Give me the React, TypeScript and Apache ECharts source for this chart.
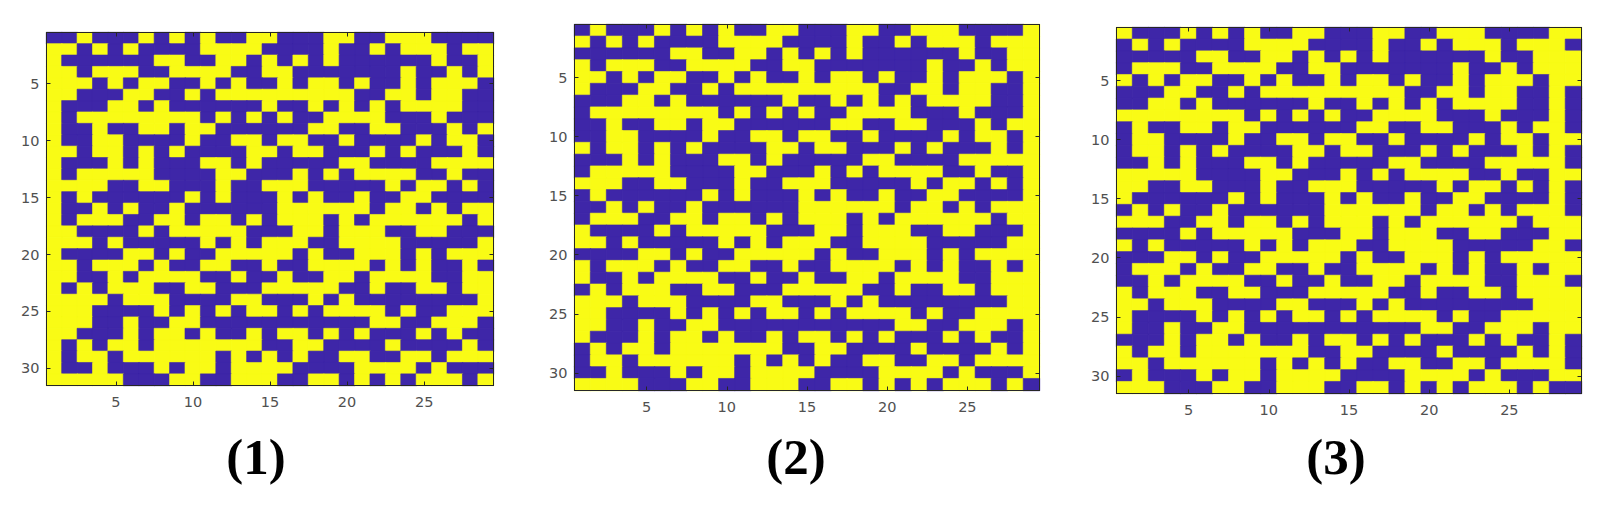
import React, { useEffect, useRef } from "react";
import * as echarts from "echarts";

// 1 = yellow, 0 = blue; spaces only group runs of equal cells (row by row, top to bottom)
const panel1Rows = [
  "00 1 000 1 0 1 0 1 00 11 000 11 00 111 0000",
  "11 0 1 0 1 0000 1111 0000 1 00 1 0 111 0 11",
  "1 000000 11 00 11 0 1 0 1 0 1 000000 1 00 1",
  "11 0 111 00 1111 00 11 0000000 1 00 1 0 1",
  "111 0 1 0 11 00 1 0 1 00 1 0 11 0 1 00 1 0 111 0",
  "11 000 11 00 1 0 111111111 00 11 0 11 00",
  "1 000 11 0 1 000000 1 00 1 0 1 0 1 0 1111 00",
  "1 0 11111111 0 1 0 1 0 1 00 1111 000 1 000",
  "1 00 1 00 11 0 11 000000 11 00 11 000 1 0 1",
  "1 00 11 0000 1 00 11 0 11 00 1 0000 1 0 11 0",
  "11 0 11 0 1 0 1 0000 11 0 11 000 1 0 1 000 1 0",
  "1 000 1 0 1 000 11 0 1 00000 11 0000 1111",
  "1 0 11111 0000 11 000 1 0 1 0 1111 00 1 00",
  "1111 00 11 000 1 00 111 00000 1 0 11 0 1 0",
  "1 0 1 000000 1 0 1 000 1 0 1 00 1 00 11 0000",
  "1 00 1 0 1 00 1 000000 111111 0 11 0 1 0 11",
  "1 0 111 00 11 0 11 0 1 0 111 0 1 0 111111 0 1",
  "11 0000 1 0 11111 000 11 0 111 00 11 000",
  "111 0 1 00000 1 0 1 0 111 00 1111 00000 1",
  "1 0000 11 0 1 00 11111 0 1 00 111 0 1 0 111",
  "11 0 111 0 1 00 11 00 1 00 1111 0 1 0 1 00 1 0",
  "11 00 1 0 1111 00 1 00 1 00 11 0 1111 00 11",
  "1 0 1 0 111 00 11 000 11111 00 1 00 11 0 11",
  "1111 0 111 0000 11 000 1 0 1 00000000 1",
  "111 0000 1 0 1 0 1 0 11 0 1 0 1111 0 1 00 111",
  "111 00 1 00 11 00000000000 11 00 111 0",
  "11 000 1 0 11 0 1 00 1 0 11 0 1 0 1 000 1 0 1 00",
  "1 0 1 0 11 0 1111111 00 11 0000 1 0000 1 0",
  "1 0 11 0 111111 0 1 0 1 0 1 00 11 00 11 0 111",
  "1 00 1 000 1 0 11 0 1111 0000 1111 0 1 000",
  "11111 000 11 00 111 00 11 0 1 0 1 0 111 0 1",
];

const panel2Rows = [
  "0 1 000 1 0 1 0 1 00 11 000 11 00 111 0000 1",
  "1 0 1 0 1 0000 1111 0000 1 00 1 0 111 0 11 1",
  "000000 11 00 11 0 1 0 1 0 1 000000 1 00 1 1",
  "1 0 111 00 1111 00 11 0000000 1 00 1 0 1 1",
  "11 0 1 0 11 00 1 0 1 00 1 0 11 0 1 00 1 0 111 0 1",
  "1 000 11 00 1 0 111111111 00 11 0 11 00 1",
  "000 11 0 1 000000 1 00 1 0 1 0 1 0 1111 00 1",
  "0 11111111 0 1 0 1 0 1 00 1111 000 1 000 1",
  "00 1 00 11 0 11 000000 11 00 11 000 1 0 1 1",
  "00 11 0000 1 00 11 0 11 00 1 0000 1 0 11 0 1",
  "1 0 11 0 1 0 1 0000 11 0 11 000 1 0 1 000 1 0 1",
  "000 1 0 1 000 11 0 1 00000 11 0000 1111 1",
  "0 11111 0000 11 000 1 0 1 0 1111 00 1 00 1",
  "111 00 11 000 1 00 111 00000 1 0 11 0 1 0 1",
  "0 1 000000 1 0 1 000 1 0 1 00 1 00 11 0000 1",
  "00 1 0 1 00 1 000000 111111 0 11 0 1 0 11 1",
  "0 111 00 11 0 11 0 1 0 111 0 1 0 111111 0 1 1",
  "1 0000 1 0 11111 000 11 0 111 00 11 000 1",
  "11 0 1 00000 1 0 1 0 111 00 1111 00000 1 1",
  "0000 11 0 1 00 11111 0 1 00 111 0 1 0 111 1",
  "1 0 111 0 1 00 11 00 1 00 1111 0 1 0 1 00 1 0 1",
  "1 00 1 0 1111 00 1 00 1 00 11 0 1111 00 11 1",
  "0 1 0 111 00 11 000 11111 00 1 00 11 0 11 1",
  "111 0 111 0000 11 000 1 0 1 00000000 1 1",
  "11 0000 1 0 1 0 1 0 11 0 1 0 1111 0 1 00 111 1",
  "11 00 1 00 11 00000000000 11 00 111 0 1",
  "1 000 1 0 11 0 1 00 1 0 11 0 1 0 1 000 1 0 1 00 1",
  "0 1 0 11 0 1111111 00 11 0000 1 0000 1 0 1",
  "0 11 0 111111 0 1 0 1 0 1 00 11 00 11 0 111 1",
  "00 1 000 1 0 11 0 1111 0000 1111 0 1 000 1",
  "1111 000 11 00 111 00 11 0 1 0 1 0 111 0 1 0",
];

const panel3Rows = [
  "1 000 1 0 1 0 1 00 11 000 11 00 111 0000 1 1",
  "0 1 0 1 0000 1111 0000 1 00 1 0 111 0 11 1 0",
  "00000 11 00 11 0 1 0 1 0 1 000000 1 00 1 1 1",
  "0 111 00 1111 00 11 0000000 1 00 1 0 1 1 1",
  "1 0 1 0 11 00 1 0 1 00 1 0 11 0 1 00 1 0 111 0 1 1",
  "000 11 00 1 0 111111111 00 11 0 11 00 1 0",
  "00 11 0 1 000000 1 00 1 0 1 0 1 0 1111 00 1 0",
  "11111111 0 1 0 1 0 1 00 1111 000 1 000 1 0",
  "0 1 00 11 0 11 000000 11 00 11 000 1 0 1 1 0",
  "0 11 0000 1 00 11 0 11 00 1 0000 1 0 11 0 1 1",
  "0 11 0 1 0 1 0000 11 0 11 000 1 0 1 000 1 0 1 0",
  "00 1 0 1 000 11 0 1 00000 11 0000 1111 1 0",
  "11111 0000 11 000 1 0 1 0 1111 00 1 00 1 1",
  "11 00 11 000 1 00 111 00000 1 0 11 0 1 0 1 0",
  "1 000000 1 0 1 000 1 0 1 00 1 00 11 0000 1 0",
  "0 1 0 1 00 1 000000 111111 0 11 0 1 0 11 1 0",
  "111 00 11 0 11 0 1 0 111 0 1 0 111111 0 1 1 1",
  "0000 1 0 11111 000 11 0 111 00 11 000 1 1",
  "1 0 1 00000 1 0 1 0 111 00 1111 00000 1 1 0",
  "000 11 0 1 00 11111 0 1 00 111 0 1 0 111 1 1",
  "0 111 0 1 00 11 00 1 00 1111 0 1 0 1 00 1 0 1 1",
  "00 1 0 1111 00 1 00 1 00 11 0 1111 00 11 1 0",
  "1 0 111 00 11 000 11111 00 1 00 11 0 11 1 1",
  "11 0 111 0000 11 000 1 0 1 00000000 1 1 1",
  "1 0000 1 0 1 0 1 0 11 0 1 0 1111 0 1 00 111 1 1",
  "1 00 1 00 11 00000000000 11 00 111 0 1 1",
  "000 1 0 11 0 1 00 1 0 11 0 1 0 1 000 1 0 1 00 1 0",
  "1 0 11 0 1111111 00 11 0000 1 0000 1 0 1 0",
  "11 0 111111 0 1 0 1 0 1 00 11 00 11 0 111 1 0",
  "0 1 000 1 0 11 0 1111 0000 1111 0 1 000 1 1",
  "111 000 11 00 111 00 11 0 1 0 1 0 111 0 1 0 0",
];

const panelTitles = ["(1)", "(2)", "(3)"];
const columns = Array.from({ length: 29 }, (_, i) => String(i + 1));
const rows = Array.from({ length: 31 }, (_, i) => String(i + 1));

const BLUE = "#3e26a8";
const YELLOW = "#f9fb15";
const AXIS = "#262626";
const LABEL = "#505050";

const boxes = [
  { left: 46.5, top: 32.5, width: 447, height: 353, titleX: 256, titleY: 431 },
  { left: 574.5, top: 24.5, width: 465, height: 366, titleX: 796, titleY: 431 },
  { left: 1116.5, top: 27.5, width: 465, height: 366, titleX: 1336, titleY: 431 },
];

const toCells = (lines: string[]) => {
  const out: any[] = [];
  lines.forEach((line, r) => {
    line.replace(/ /g, "").split("").forEach((c, x) => {
      out.push({
        value: [x, r, Number(c)],
        itemStyle: { borderColor: c === "1" ? YELLOW : BLUE, borderWidth: 0.6 },
      });
    });
  });
  return out;
};

const everyFifth = (index: number) => (index + 1) % 5 === 0;

export default function App() {
  const ref = useRef<HTMLDivElement>(null);
  useEffect(() => {
    const chart = echarts.init(ref.current!, undefined, { renderer: "svg" });
    const panels = [panel1Rows, panel2Rows, panel3Rows];
    const xAxis: any[] = [];
    const yAxis: any[] = [];
    const series: any[] = [];
    const line = { show: true, onZero: false, lineStyle: { color: AXIS, width: 1 } };
    const tick = {
      show: true,
      inside: true,
      length: 4,
      alignWithLabel: true,
      interval: everyFifth,
      lineStyle: { color: AXIS, width: 1 },
    };
    const label = {
      show: true,
      interval: everyFifth,
      color: LABEL,
      fontFamily: "DejaVu Sans",
      fontSize: 14.5,
    };
    panels.forEach((p, i) => {
      const base = i * 2;
      xAxis.push(
        { type: "category", gridIndex: i, data: columns, position: "bottom", z: 5, axisLine: line, axisTick: tick, axisLabel: { ...label, margin: 9 }, splitLine: { show: false } },
        { type: "category", gridIndex: i, data: columns, position: "top", z: 5, axisLine: line, axisTick: tick, axisLabel: { show: false }, splitLine: { show: false } },
      );
      yAxis.push(
        { type: "category", gridIndex: i, data: rows, inverse: true, position: "left", z: 5, axisLine: line, axisTick: tick, axisLabel: { ...label, margin: 7 }, splitLine: { show: false } },
        { type: "category", gridIndex: i, data: rows, inverse: true, position: "right", z: 5, axisLine: line, axisTick: tick, axisLabel: { show: false }, splitLine: { show: false } },
      );
      series.push({
        type: "heatmap",
        xAxisIndex: base,
        yAxisIndex: base,
        data: toCells(p),
        z: 2,
        emphasis: { disabled: true },
      });
    });
    chart.setOption({
      animation: false,
      backgroundColor: "#ffffff",
      title: panelTitles.map((t, i) => ({
        text: t,
        left: boxes[i].titleX,
        top: boxes[i].titleY,
        textAlign: "center",
        padding: 0,
        textStyle: {
          fontFamily: "Liberation Serif",
          fontWeight: "bold",
          fontSize: 51,
          color: "#000000",
        },
      })),
      grid: boxes.map((b) => ({
        left: b.left,
        top: b.top,
        width: b.width,
        height: b.height,
        containLabel: false,
      })),
      xAxis,
      yAxis,
      visualMap: {
        show: false,
        type: "piecewise",
        dimension: 2,
        seriesIndex: [0, 1, 2],
        pieces: [
          { value: 0, color: BLUE },
          { value: 1, color: YELLOW },
        ],
      },
      series,
    });
    return () => chart.dispose();
  }, []);
  return (
    <div
      ref={ref}
      style={{ position: "absolute", left: 0, top: 0, width: 1616, height: 518, background: "#fff" }}
    />
  );
}
